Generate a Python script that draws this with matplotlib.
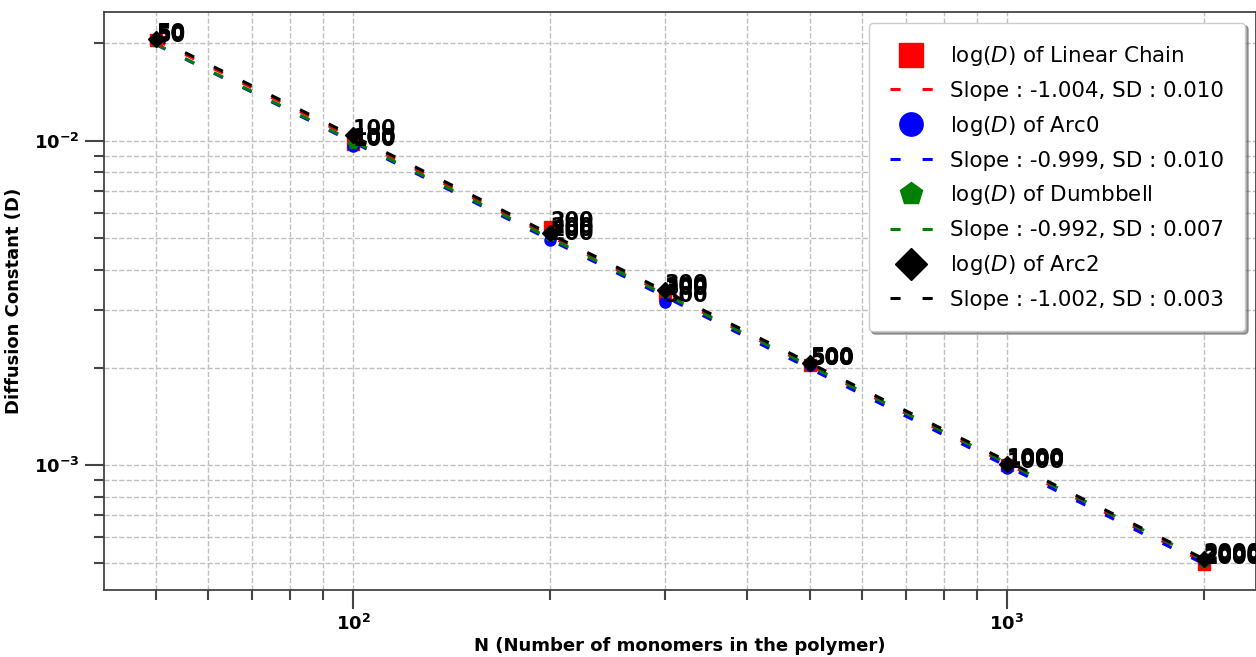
import numpy as np
import matplotlib
matplotlib.use("Agg")
import matplotlib.pyplot as plt

# Chain lengths and measured diffusion constants for each topology
N = [50, 100, 200, 300, 500, 1000, 2000]
D_linear = [0.0205, 0.0098, 0.00543, 0.00335, 0.00204, 0.00100, 0.000497]
D_arc0 = [0.0205, 0.00965, 0.00494, 0.00319, 0.00203, 0.00098, 0.000505]
D_dumbbell = [0.0202, 0.00975, 0.0051, 0.0034, 0.00205, 0.00100, 0.000500]
D_arc2 = [0.0206, 0.01044, 0.0052, 0.00347, 0.00206, 0.00101, 0.000515]

names = ["Linear Chain", "Arc0", "Dumbbell", "Arc2"]
slopes = [-1.004, -0.999, -0.992, -1.002]
sds = [0.010, 0.010, 0.007, 0.003]

colors = ["red", "blue", "green", "black"]
markers = ["s", "o", "p", "D"]

fig = plt.figure(figsize=(12.56, 6.57), dpi=100)
ax = fig.add_axes([104 / 1256, 67 / 657, 1152 / 1256, 578 / 657])
ax.set_xscale("log")
ax.set_yscale("log")

series = [D_linear, D_arc0, D_dumbbell, D_arc2]
logN = np.log10(N)
for name, D, slope, sd, c, m in zip(names, series, slopes, sds, colors, markers):
    ax.plot(N, D, linestyle="none", marker=m, color=c, markersize=8,
            label=f"log($D$) of {name}", zorder=3)
    # power-law fit line with the reported slope
    logD = np.log10(D)
    intercept = np.mean(logD - slope * logN)
    fit = 10 ** (intercept + slope * logN)
    ax.plot(N, fit, color=c, lw=2.2, linestyle=(0, (3.3, 7.2)),
            label=f"Slope : {slope:.3f}, SD : {sd:.3f}", zorder=2)
    for n, d in zip(N, D):
        ax.annotate(str(n), (n, d), fontsize=15, fontweight="bold",
                    color="black", zorder=4)

ax.grid(True, which="both", linestyle="--", color="#c0c0c0", lw=1)
ax.set_axisbelow(True)

for s in ax.spines.values():
    s.set_color("#444444")
    s.set_linewidth(1.3)

ax.tick_params(which="major", direction="out", length=14, width=1.5,
               color="#444444", labelsize=13)
ax.tick_params(which="minor", direction="out", length=7, width=1.5,
               color="#444444")
for lab in ax.get_xticklabels() + ax.get_yticklabels():
    lab.set_fontweight("bold")

ax.set_xlabel("N (Number of monomers in the polymer)", fontsize=13,
              fontweight="bold", labelpad=2)
ax.set_ylabel("Diffusion Constant (D)", fontsize=13, fontweight="bold",
              labelpad=8)

leg = ax.legend(loc="upper right", fontsize=15.4, markerscale=2.1,
                numpoints=1, shadow=True, framealpha=1,
                borderpad=1.0, labelspacing=0.6)
leg.get_frame().set_edgecolor("#cccccc")

fig.savefig("out.png", dpi=100)
